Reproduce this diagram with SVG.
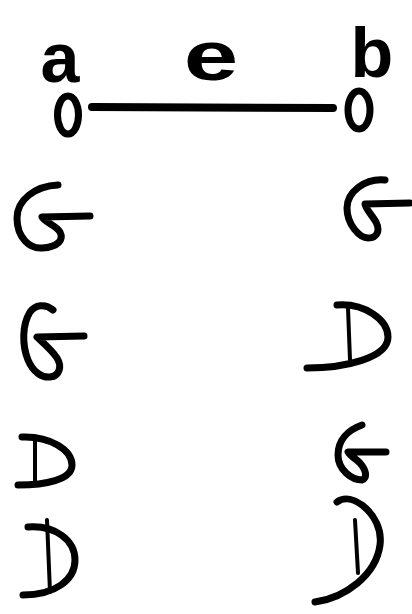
<svg xmlns="http://www.w3.org/2000/svg" width="412" height="614" viewBox="0 0 412 614">
<style>
.lbl{font-family:"Liberation Sans",Arial,sans-serif;font-size:70px;font-weight:bold;fill:#000;text-anchor:middle}
.node{fill:none;stroke:#000;stroke-width:7}
.edge{fill:none;stroke:#000;stroke-width:8;stroke-linecap:round}
.s{fill:none;stroke:#000;stroke-width:7;stroke-linecap:round;stroke-linejoin:round}
.t{fill:none;stroke:#000;stroke-width:4;stroke-linecap:round}
</style>
<rect width="412" height="614" fill="#fff"/>
<g id="connectors">
  <g id="edge-e">
    <line class="edge" x1="92" y1="107" x2="333" y2="108"/>
    <text class="lbl" x="211" y="80" transform="translate(211 0) scale(1.4 1) translate(-211 0)">e</text>
  </g>
</g>
<g id="node-a">
  <ellipse class="node" cx="68" cy="115" rx="10.5" ry="19"/>
  <text class="lbl" x="60" y="82">a</text>
</g>
<g id="node-b">
  <ellipse class="node" cx="359" cy="110" rx="11" ry="19"/>
  <text class="lbl" x="372" y="77">b</text>
</g>
<g id="symbols">
  <path class="s" d="M58,185 C35,186 17,200 17,218 C17,238 30,249 42,248 C58,247 64,240 60,232 C56,225 44,222 42,217 L90,216"/>
  <path class="s" d="M385,180 C365,178 347,192 347,208 C347,225 360,238 368,238 C378,238 380,230 376,222 C372,215 365,208 365,204 L410,203"/>
  <path class="s" d="M53,310 C45,303 35,305 30,312 C22,325 22,345 28,360 C33,372 42,378 50,377 C60,376 62,366 57,358 C52,350 40,340 37,337 L84,336"/>
  <path class="s" d="M337,305 C365,303 388,320 388,337 C388,358 345,368 307,368"/>
  <path class="t" d="M348,308 L350,360"/>
  <path class="s" d="M362,425 C348,430 338,440 338,455 C338,470 352,480 362,480 C368,478 366,470 360,463 C355,458 349,455 348,452 L386,452"/>
  <path class="s" d="M22,437 C50,436 72,450 72,465 C72,480 45,485 18,485"/>
  <path class="t" d="M35,438 L35,482"/>
  <path class="s" d="M28,527 C55,525 75,540 75,560 C75,580 55,595 23,595"/>
  <path class="t" d="M47,520 L50,592"/>
  <path class="s" d="M337,502 C345,496 355,500 362,505 C375,515 382,530 380,545 C376,575 345,598 315,602"/>
  <path class="t" d="M355,520 L358,573"/>
</g>
</svg>
